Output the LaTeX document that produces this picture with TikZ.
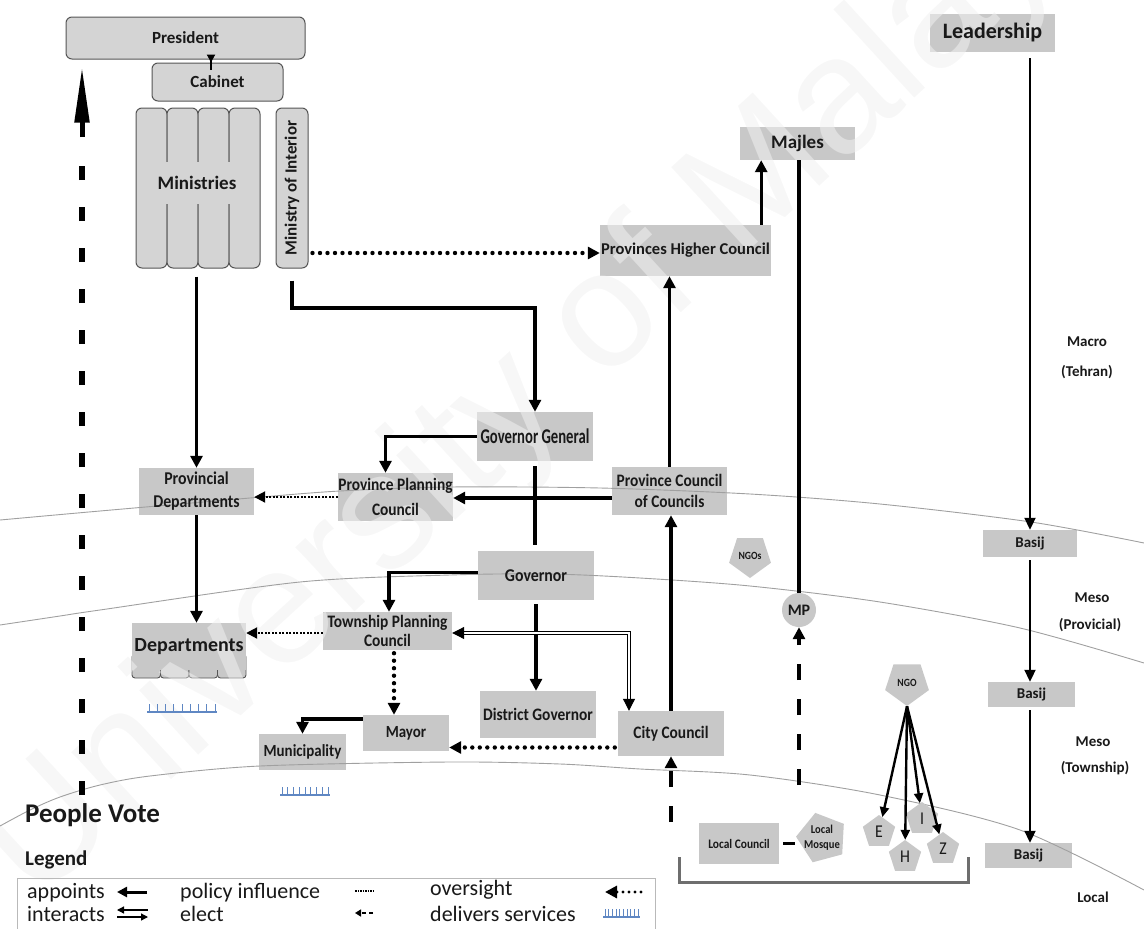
\documentclass[tikz,border=0pt]{standalone}
\usepackage{fontspec}
\setmainfont{Carlito}
\newfontfamily\condfont[FakeStretch=0.88]{Carlito}
\newfontfamily\narrowfont[FakeStretch=0.70]{Carlito}
\newfontfamily\markfont{Liberation Sans}
\usetikzlibrary{arrows.meta,shapes.geometric,calc}

\definecolor{boxgray}{RGB}{200,200,200}
\definecolor{roundgray}{RGB}{212,212,212}
\definecolor{edgegray}{RGB}{85,85,85}
\definecolor{levelline}{RGB}{160,160,160}
\definecolor{service}{RGB}{95,135,195}
\definecolor{markgray}{RGB}{243,243,243}
\definecolor{ink}{RGB}{25,25,25}
\definecolor{bracketgray}{RGB}{110,110,110}
\definecolor{legendedge}{RGB}{185,185,185}

\pgfdeclarelayer{markback}
\pgfdeclarelayer{fills}
\pgfdeclarelayer{markfront}
\pgfsetlayers{markback,fills,markfront,main}

\newcommand{\fz}[2]{\fontsize{#1}{#2}\selectfont}
% comb symbol for "delivers services": x1, x2, y, number of gaps
\newcommand{\servicecomb}[4]{%
  \draw[service, line width=1.1pt] (#1,#3) -- (#2,#3);
  \foreach \k in {0,...,#4}
    \draw[service, line width=0.8pt] ({#1+2+\k*(#2-#1-4)/#4},#3) -- ++(0,-8);
}

\begin{document}
\begin{tikzpicture}[x=1pt, y=-1pt, text=ink,
  flat/.style={inner sep=0pt, align=center},
  rnd/.style={draw=edgegray, line width=1pt, fill=roundgray, rounded corners=6pt, inner sep=0pt},
  appoint/.style={line width=3.2pt, -{Triangle[length=12pt,width=12pt]}},
  small appoint/.style={line width=2pt, -{Triangle[length=8pt,width=8pt]}},
  link/.style={line width=3.2pt},
  thin arrow/.style={line width=2pt, -{Triangle[length=12pt,width=11pt]}},
  ngo arrow/.style={line width=2.4pt, -{Triangle[length=10pt,width=9pt]}},
  oversight/.style={line width=4.4pt, line cap=round, dash pattern=on 0pt off 7.5pt, -{Triangle[length=12pt,width=12pt]}},
  policy/.style={line width=2pt, dash pattern=on 2pt off 1.5pt, -{Triangle[length=11pt,width=11pt]}},
  elect/.style={line width=4.5pt, dash pattern=on 16pt off 19pt, -{Triangle[length=12pt,width=12pt]}},
  big elect/.style={line width=6pt, dash pattern=on 14pt off 27pt},
  interact/.style={double, double distance=2.6pt, line width=1pt, {Triangle[length=12pt,width=12pt]}-{Triangle[length=12pt,width=12pt]}},
  level/.style={levelline, line width=0.9pt},
  pent/.style={regular polygon, regular polygon sides=5, fill=boxgray, inner sep=0pt},
  levelname/.style={font=\bfseries\fz{15}{18}, align=center},
  legendtext/.style={anchor=west, inner sep=0pt, font=\fz{22}{24}},
  watermark/.style={rotate=42.5, anchor=base west, inner sep=0pt, font=\markfont\fz{165}{165}},
]
\useasboundingbox (0,0) rectangle (1144,929);

% ---------- watermark ----------
\begin{pgfonlayer}{markback}
  \node[watermark, text=markgray] (wmback) at (35,905) {University of Malaya};
\end{pgfonlayer}
\begin{pgfonlayer}{markfront}
  \node[watermark, text=white, text opacity=0.4] (wmfront) at (35,905) {University of Malaya};
\end{pgfonlayer}

% ---------- level boundaries ----------
\draw[level] plot[smooth] coordinates {(0,520) (100,511) (250,498) (340,491) (450,487) (600,488) (750,494) (880,504) (1031,522) (1144,543)};
\draw[level] plot[smooth] coordinates {(0,625) (60,616) (100,610) (300,582) (450,575) (550,574) (640,578) (750,586) (880,602) (1020,628) (1144,663)};
\draw[level] plot[smooth] coordinates {(0,826) (30,810) (60,797) (100,785) (150,776) (260,766) (450,762) (560,764) (640,769) (750,775) (880,795) (1020,830) (1144,890)};

% ---------- national level ----------
\node[rnd, minimum width=239pt, minimum height=42pt, font=\bfseries\fz{17}{20}] (pres) at (185.5,38) {President};
\node[rnd, minimum width=131pt, minimum height=38pt, font=\bfseries\fz{17}{20}] (cab) at (217.5,82) {Cabinet};
\foreach \i/\xx in {1/151.5,2/182.5,3/213.5,4/244.5}
  \node[rnd, minimum width=31pt, minimum height=160pt] (min\i) at (\xx,188) {};
\node[fill=roundgray, minimum width=92pt, minimum height=42pt, inner sep=0pt, font=\bfseries\fz{19}{22}] (ministries) at (197,183) {Ministries};
\node[rnd, minimum width=32pt, minimum height=160pt] (moi) at (292,188) {};
\node[rotate=90, inner sep=0pt, font=\bfseries\fz{17}{20}] (moilabel) at (moi.center) {Ministry of Interior};

\node[flat, minimum width=115pt, minimum height=33pt, font=\bfseries\fz{19}{22}] (majles) at (797.5,143.5) {Majles};
\node[flat, minimum width=171pt, minimum height=51pt, font=\bfseries\fz{16.5}{20}] (phc) at (685.5,250.5) {Provinces Higher Council};
\node[flat, minimum width=125pt, minimum height=38pt, font=\bfseries\fz{22}{26}] (lead) at (992.5,33) {Leadership};
\node[flat, minimum width=94pt, minimum height=27pt, font=\bfseries\fz{15}{18}] (basij1) at (1030,543.5) {Basij};
\node[flat, minimum width=87pt, minimum height=25pt, font=\bfseries\fz{15}{18}] (basij2) at (1031.5,694.5) {Basij};
\node[flat, minimum width=87pt, minimum height=25pt, font=\bfseries\fz{15}{18}] (basij3) at (1028.5,855.5) {Basij};

% ---------- provincial and township level ----------
\node[flat, minimum width=115pt, minimum height=47pt, font=\condfont\bfseries\fz{18}{23}] (pd) at (196.5,491.5) {Provincial\\Departments};
\node[flat, minimum width=115pt, minimum height=48pt, font=\condfont\bfseries\fz{17.5}{25}] (ppc) at (395.5,497) {Province Planning\\Council};
\node[flat, minimum width=114pt, minimum height=47pt, font=\bfseries\fz{20}{24}] (dep) at (189,646.5) {Departments};
\node[flat, minimum width=129pt, minimum height=38pt, font=\condfont\bfseries\fz{17.5}{19}] (tpc) at (387.5,631) {Township Planning\\Council};
\node[flat, minimum width=116pt, minimum height=49pt, font=\narrowfont\bfseries\fz{21}{24}] (gg) at (535,436.5) {Governor General};
\node[flat, minimum width=116pt, minimum height=49pt, font=\condfont\bfseries\fz{18}{22}] (gov) at (536,575.5) {Governor};
\node[flat, minimum width=116pt, minimum height=47pt, font=\condfont\bfseries\fz{17.5}{21}] (dg) at (538,714.5) {District Governor};
\node[flat, minimum width=106pt, minimum height=45pt, font=\condfont\bfseries\fz{17.5}{21}] (cc) at (671,733.5) {City Council};
\node[flat, minimum width=86pt, minimum height=36pt, font=\condfont\bfseries\fz{17}{21}] (mayor) at (406,733) {Mayor};
\node[flat, minimum width=87pt, minimum height=36pt, font=\condfont\bfseries\fz{17}{21}] (muni) at (302.5,752) {Municipality};
\node[flat, minimum width=115pt, minimum height=48pt, font=\condfont\bfseries\fz{17.5}{21}] (pcc) at (669.5,491) {Province Council\\of Councils};
\node[flat, minimum width=80pt, minimum height=41pt, font=\condfont\bfseries\fz{13}{15}] (lc) at (739,843.5) {Local Council};

% ---------- civil society ----------
\node[pent, minimum size=44pt, shape border rotate=180] (ngos) at (750,556) {};
\node[inner sep=0pt, font=\condfont\bfseries\fz{11}{13}] (ngoslabel) at (ngos.center) {NGOs};
\node[pent, minimum size=46pt, shape border rotate=180] (ngo) at (907,683) {};
\node[inner sep=0pt, font=\condfont\bfseries\fz{11}{13}] (ngolabel) at (ngo.center) {NGO};
\node[pent, minimum size=52pt, shape border rotate=15] (mosque) at (822,838) {};
\node[inner sep=0pt, align=center, font=\condfont\bfseries\fz{12}{15}] (mosquelabel) at (mosque.center) {Local\\Mosque};
\node[pent, minimum size=34pt, font=\condfont\fz{18}{20}] (ee) at (879,832) {E};
\node[pent, minimum size=34pt, font=\condfont\fz{18}{20}] (hh) at (905,857) {H};
\node[pent, minimum size=34pt, font=\condfont\fz{18}{20}] (ii) at (922,819) {I};
\node[pent, minimum size=34pt, font=\condfont\fz{18}{20}] (zz) at (943,849) {Z};
\node[circle, fill=boxgray, minimum size=34pt, inner sep=0pt, font=\bfseries\fz{16}{18}] (mp) at (799,610) {MP};

% ---------- box fills (beneath the watermark highlight) ----------
\begin{pgfonlayer}{fills}
  \foreach \i/\xx in {1/146.25,2/174.75,3/203.25,4/231.75}
    \node[draw=edgegray, line width=0.9pt, fill=boxgray, rounded corners=3pt, minimum width=28.5pt, minimum height=24pt, inner sep=0pt] (depfoot\i) at (\xx,666) {};
  \foreach \n in {majles,phc,lead,basij1,basij2,basij3,pd,ppc,dep,tpc,gg,gov,dg,cc,mayor,muni,pcc,lc}
    \fill[boxgray] (\n.south west) rectangle (\n.north east);
\end{pgfonlayer}

% ---------- level names ----------
\node[levelname] (macro) at (1087,342) {Macro};
\node[levelname] (tehran) at (1087,372) {(Tehran)};
\node[levelname] (meso1) at (1092,598) {Meso};
\node[levelname] (provicial) at (1090,625) {(Provicial)};
\node[levelname] (meso2) at (1093,742) {Meso};
\node[levelname] (township) at (1095,768) {(Township)};
\node[levelname] (local) at (1093,897) {Local};

% ---------- connectors ----------
\coordinate (pcx) at (211,0);
\draw[small appoint, shorten <=-10pt] (pres.south -| pcx) -- (cab.north -| pcx);
\draw[appoint, shorten <=8pt] (min2.south -| pd.north) -- (pd.north);
\coordinate (moiturn) at (292,308);
\draw[appoint, shorten <=12pt] (moi.south) -- (moiturn) -| (gg.north);
\draw[appoint] (gg.west) -| ($(ppc.north)+(-10,0)$);
\draw[link, shorten <=5pt, shorten >=6pt] (gg.south) -- (gg.south |- gov.north);
\draw[appoint] ($(gov.west)+(0,-3)$) -| ($(tpc.north)+(1.5,0)$);
\draw[appoint, shorten <=4pt] (gov.south) -- (gov.south |- dg.north);
\coordinate (pccout) at ($(pcc.west)+(0,7)$);
\draw[appoint] (pccout) -- (pccout -| ppc.east);
\draw[policy] (ppc.west) -- (ppc.west -| pd.east);
\draw[appoint] (pd.south) -- (pd.south |- dep.north);
\coordinate (tpcleft) at ($(tpc.west)+(0,2)$);
\draw[policy] (tpcleft) -- (tpcleft -| dep.east);
\coordinate (ccin) at ($(cc.north)+(-42,0)$);
\draw[interact] ($(tpc.east)+(0,2)$) -| (ccin);
\coordinate (ccout) at ($(cc.west)+(0,14)$);
\draw[oversight, shorten <=3pt] (ccout) -- (ccout -| mayor.east);
\coordinate (tpcout) at ($(tpc.south)+(6.5,0)$);
\draw[oversight, shorten <=3pt] (tpcout) -- (tpcout |- mayor.north);
\draw[appoint] ($(mayor.west)+(0,-14)$) -| (muni.north);
\draw[appoint] (cc.north) -- (cc.north |- pcc.south);
\draw[appoint] (pcc.north) -- (pcc.north |- phc.south);
\coordinate (phcout) at ($(phc.north east)+(-10,0)$);
\draw[appoint] (phcout) -- (phcout |- majles.south);
\draw[link] (mp.north |- majles.south) -- (mp.north);
\coordinate (moiout) at ($(moi.east)+(0,65)$);
\draw[oversight, shorten <=4pt] (moiout) -- (moiout -| phc.west);
\coordinate (ccvote) at (671,822);
\draw[elect] (ccvote) -- (ccvote |- cc.south);
\coordinate (mpvote) at (799,785);
\draw[elect] (mpvote) -- (mp.south);
\foreach \t in {ee,hh,ii,zz}
  \draw[ngo arrow] (ngo.south) -- (\t);
\draw[thin arrow, shorten <=6pt] (basij1.north |- lead.south) -- (basij1.north);
\draw[thin arrow, shorten <=3pt] (basij1.south) -- (basij1.south |- basij2.north);
\draw[thin arrow, shorten <=3pt] (basij2.south -| basij1.south) -- (basij1.south |- basij3.north);
\draw[line width=3pt, shorten <=4pt, shorten >=2pt] (lc.east) -- (lc.east -| mosque.west);

% local bracket
\draw[bracketgray, line width=3pt] (679,857) |- (968,882) -- (968,857);

% people vote
\node[anchor=west, inner sep=0pt, font=\bfseries\fz{27}{30}] (vote) at (25,815) {People Vote};
\coordinate (votefoot) at (82,795);
\coordinate (votemid) at (82,152);
\coordinate (voteneck) at (82,137);
\draw[big elect] (votefoot) -- (votemid);
\draw[line width=5pt, -{Triangle[length=56pt,width=14pt]}, shorten >=7pt] (voteneck) -- (voteneck |- pres.south);

% services
\servicecomb{147}{217}{712}{8}
\servicecomb{280}{330}{795}{8}

% ---------- legend ----------
\node[anchor=west, inner sep=0pt, font=\bfseries\fz{21}{24}] (legendtitle) at (25,860) {Legend};
\draw[legendedge, line width=0.9pt] (17,878) rectangle (655,945);
\node[legendtext] (lgapp) at (27,893) {appoints};
\node[legendtext] (lgint) at (27,914) {interacts};
\node[legendtext] (lgpol) at (180,893) {policy influence};
\node[legendtext] (lgele) at (180,914) {elect};
\node[legendtext] (lgove) at (430,890) {oversight};
\node[legendtext] (lgser) at (430,914) {delivers services};
\coordinate (la1) at (147,892); \coordinate (la2) at (117,892);
\draw[line width=3pt, -{Triangle[length=10pt,width=10pt]}] (la1) -- (la2);
\coordinate (li1) at (148,910); \coordinate (li2) at (117,910);
\draw[line width=1.3pt, -{Triangle[length=7pt,width=7pt]}] (li1) -- (li2);
\coordinate (li3) at (117,917); \coordinate (li4) at (148,917);
\draw[line width=1.3pt, -{Triangle[length=7pt,width=7pt]}] (li3) -- (li4);
\coordinate (lp1) at (355,891); \coordinate (lp2) at (373,891);
\draw[line width=1.6pt, dash pattern=on 1.5pt off 1pt] (lp1) -- (lp2);
\coordinate (le1) at (373,913); \coordinate (le2) at (355,913);
\draw[line width=2pt, dash pattern=on 4pt off 3pt, -{Triangle[length=6pt,width=7pt]}] (le1) -- (le2);
\coordinate (lo1) at (641,892); \coordinate (lo2) at (605,892);
\draw[oversight, line width=3.4pt, dash pattern=on 0pt off 6pt] (lo1) -- (lo2);
\servicecomb{603}{640}{917}{9}
\end{tikzpicture}
\end{document}
